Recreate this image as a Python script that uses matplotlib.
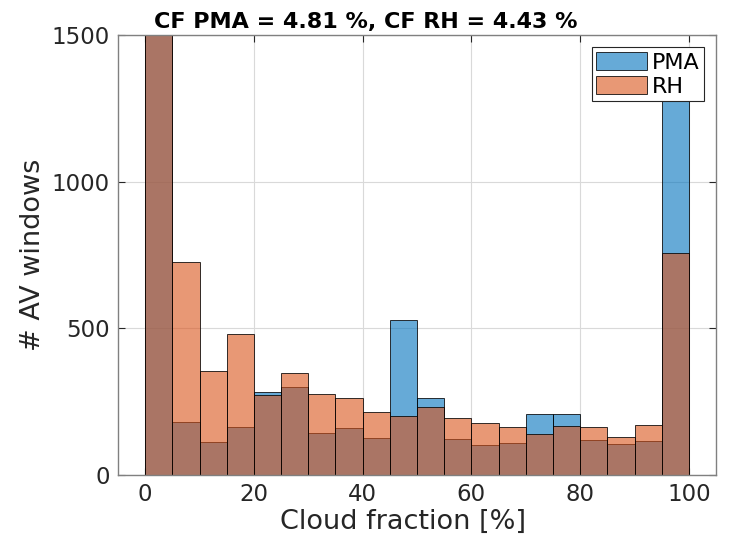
import numpy as np
import matplotlib
matplotlib.use('Agg')
import matplotlib.pyplot as plt
from matplotlib.colors import to_rgba

plt.rcParams['font.family'] = ['DejaVu Sans']

# cloud fraction bins (5 % wide) and counts per bin
bin_edges = np.arange(0, 105, 5)
counts_pma = [3200, 180, 114, 165, 282, 299, 144, 161, 126, 528,
              264, 122, 103, 108, 208, 208, 119, 105, 115, 1400]
counts_rh = [3400, 727, 356, 480, 273, 347, 276, 261, 216, 202,
             233, 194, 176, 165, 140, 167, 165, 128, 170, 756]
labels = ['PMA', 'RH']
title_txt = 'CF PMA = 4.81 %, CF RH = 4.43 %'

COLOR_PMA = (0.0, 0.447, 0.741)
COLOR_RH = (0.85, 0.325, 0.098)
GREY = (0.15, 0.15, 0.15)

fig = plt.figure(figsize=(7.30, 5.41), dpi=100)
ax = fig.add_axes([0.1616, 0.122, 0.8194, 0.813])

centers = bin_edges[:-1] + 2.5
for counts, col, lab in [(counts_pma, COLOR_PMA, labels[0]), (counts_rh, COLOR_RH, labels[1])]:
    ax.hist(centers, bins=bin_edges, weights=counts, histtype='bar',
            facecolor=to_rgba(col, 0.6), edgecolor=(0, 0, 0, 0.8),
            linewidth=0.7, label=lab, zorder=2)

ax.set_xlim(-5, 105)
ax.set_ylim(0, 1500)
ax.set_xticks(np.arange(0, 101, 20))
ax.set_yticks([0, 500, 1000, 1500])
ax.grid(True, color=(0.85, 0.85, 0.85), linewidth=0.8, zorder=0)
ax.set_axisbelow(True)
ax.tick_params(direction='in', top=True, right=True, length=5, width=0.8,
               colors=GREY, labelsize=16.5, labelcolor=GREY, pad=6)
for sp in ax.spines.values():
    sp.set_color((0.5, 0.5, 0.5))
    sp.set_linewidth(1.0)

ax.set_xlabel('Cloud fraction [%]', fontsize=19.5, color=GREY, labelpad=2, x=0.477)
ax.set_ylabel('# AV windows', fontsize=19.5, color=GREY, labelpad=4)
# title is centred on the figure rather than on the axes
ax.set_title(title_txt, fontsize=16, fontweight='bold', pad=5, x=0.415)

leg = ax.legend(loc='upper right', fontsize=16, fancybox=False, framealpha=1,
                edgecolor=GREY, handlelength=2.3, handleheight=0.9,
                borderpad=0.2, labelspacing=0.15, handletextpad=0.2,
                borderaxespad=0.55)
leg.get_frame().set_linewidth(0.8)

fig.savefig('out.png', dpi=100)
